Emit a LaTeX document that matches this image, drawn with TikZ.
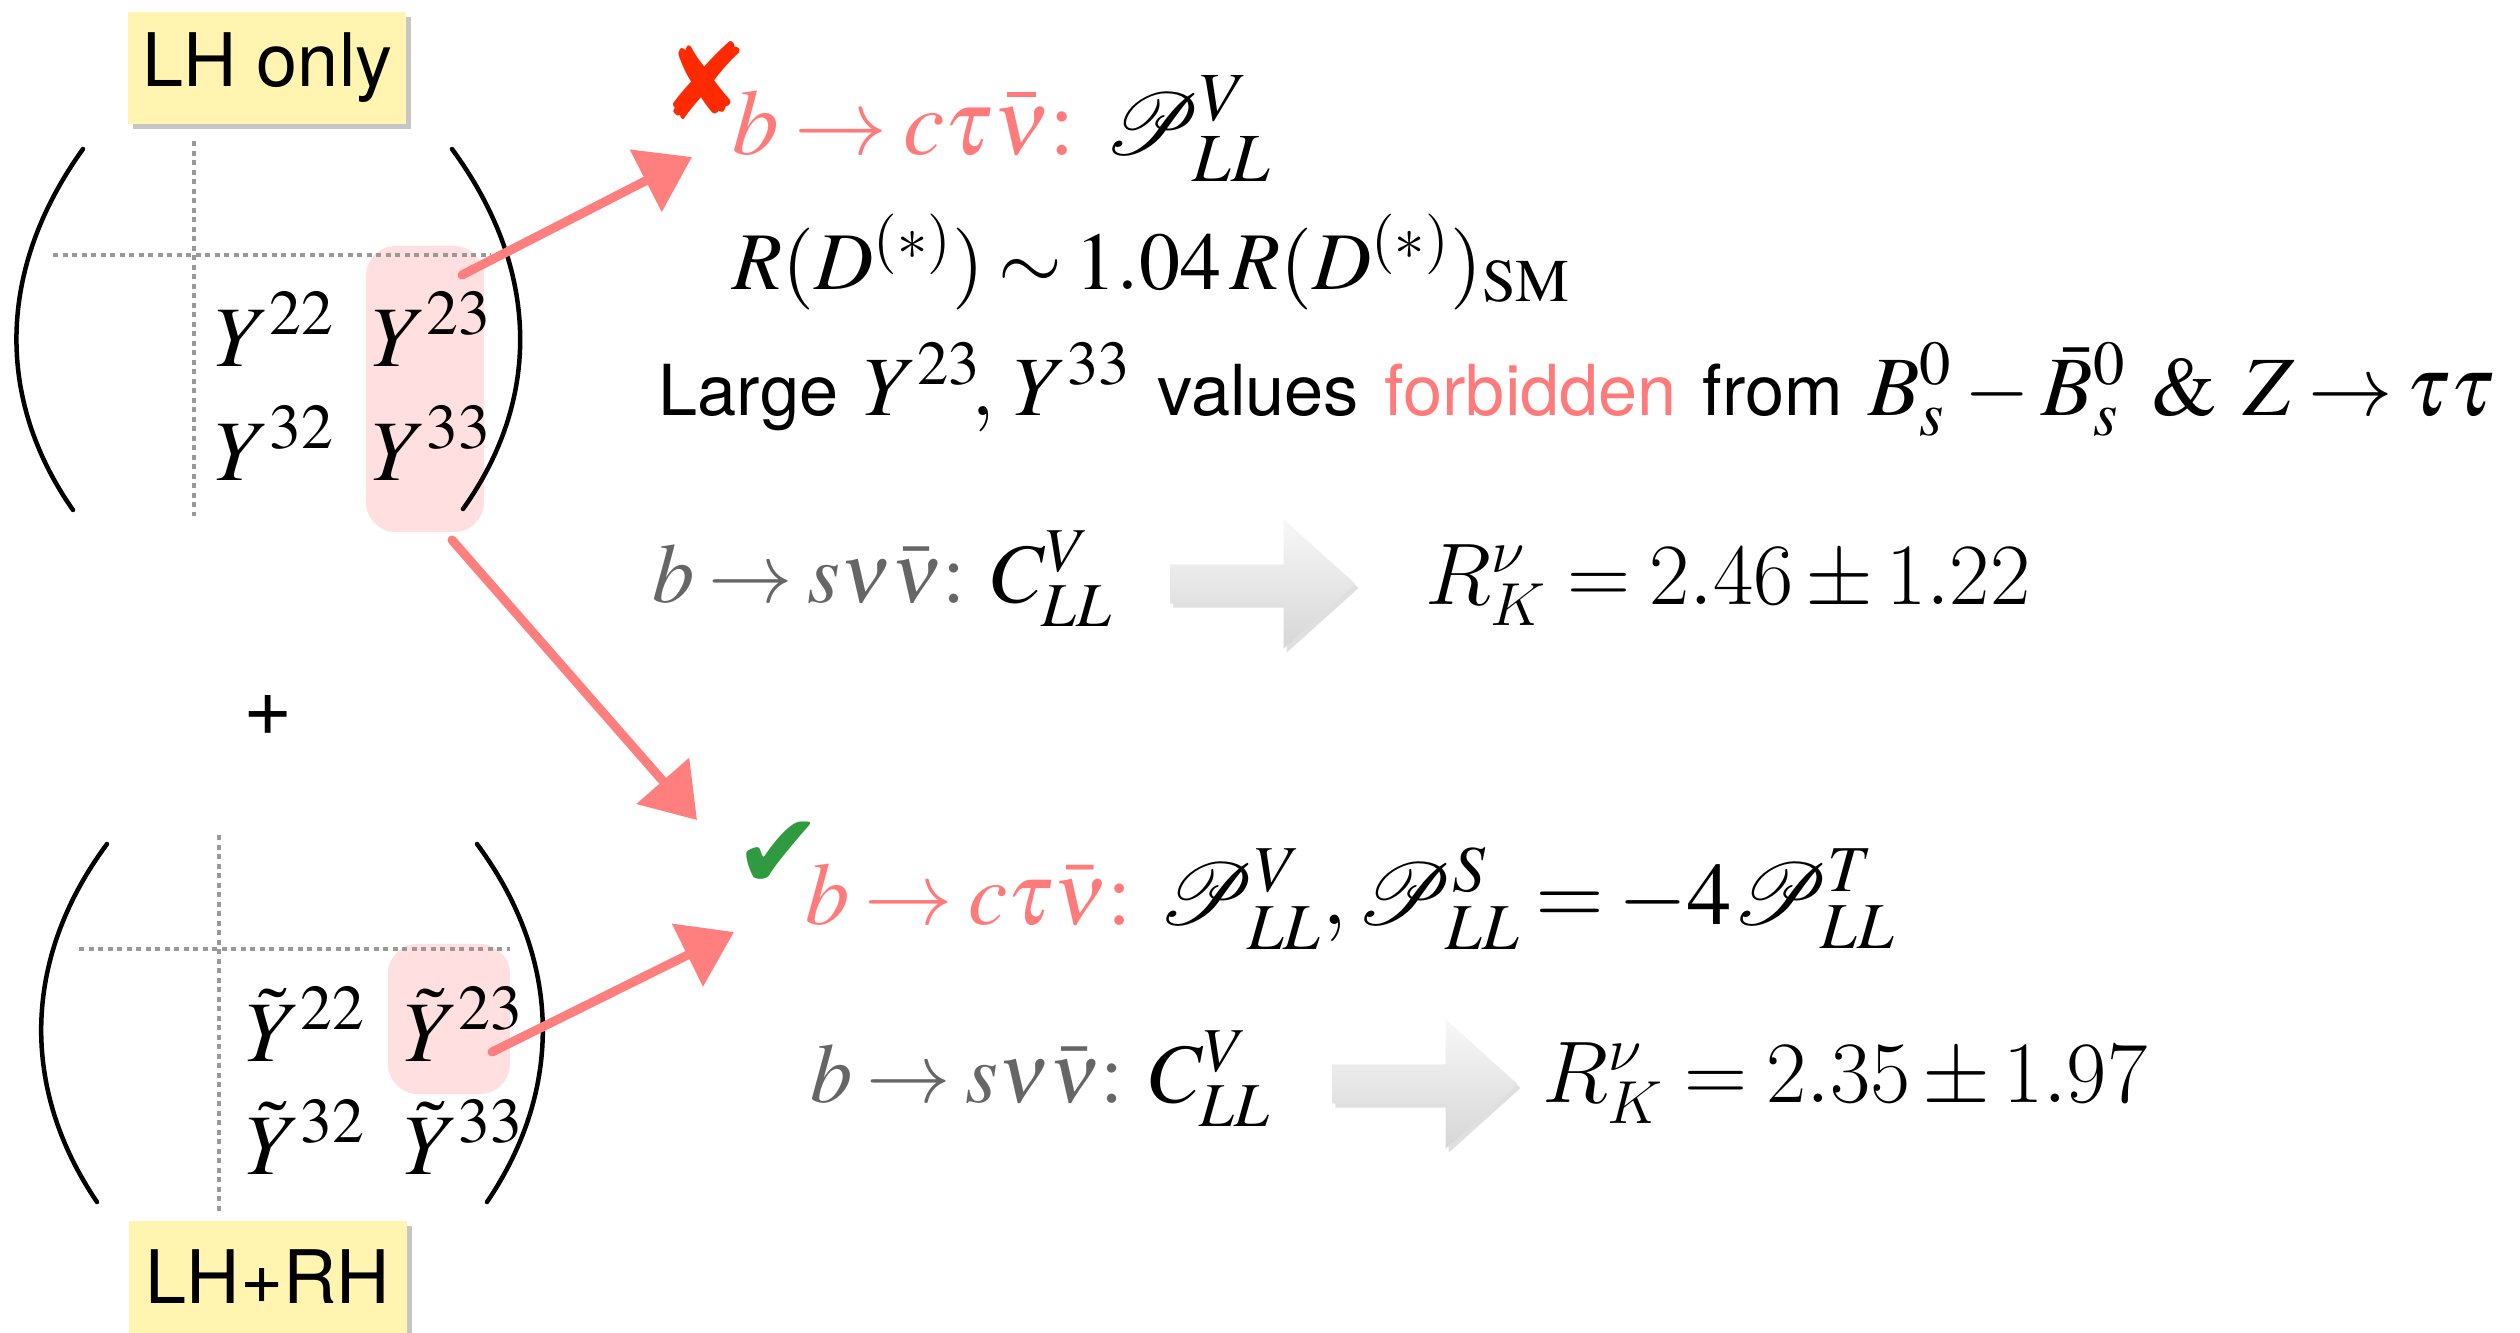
\documentclass[tikz,border=0pt]{standalone}
\usepackage{mathptmx}
\usepackage{mathrsfs}
\usepackage[no-math]{fontspec}
\setsansfont{TeX Gyre Heros}
\newfontfamily\symbolfont{DejaVu Sans}
\usetikzlibrary{positioning,arrows.meta,shapes.arrows,shadows}

% Computer Modern math for the R_K results
\DeclareMathVersion{cm}
\SetSymbolFont{operators}{cm}{OT1}{cmr}{m}{n}
\SetSymbolFont{letters}{cm}{OML}{cmm}{m}{it}
\SetSymbolFont{symbols}{cm}{OMS}{cmsy}{m}{n}
\SetSymbolFont{largesymbols}{cm}{OMX}{cmex}{m}{n}
\newcommand{\cmresult}[1]{\hbox{\mathversion{cm}$#1$}}

\definecolor{pinkred}{HTML}{FF7B7B}
\definecolor{chalkred}{HTML}{FF7F7F}
\definecolor{hlpink}{HTML}{FFDFDF}
\definecolor{notefill}{HTML}{FFF5B1}
\definecolor{textgray}{HTML}{666666}
\definecolor{gridgray}{HTML}{999999}
\definecolor{crossred}{HTML}{FF2A00}
\definecolor{checkgreen}{HTML}{2F9A3F}

\newcommand{\sanstext}[1]{{\fontsize{20}{24}\sffamily #1}}
\newcommand{\tightmath}{\thickmuskip=3mu plus 1mu\medmuskip=2.5mu plus 1mu}

\begin{document}
\begin{tikzpicture}[
    x=0.01cm, y=-0.01cm,
    mathtext/.style={inner sep=0pt, anchor=base west, font=\fontsize{24}{30}\selectfont\tightmath},
    bigmath/.style={mathtext, font=\fontsize{26.5}{30}\selectfont\tightmath},
    entry/.style={inner sep=0pt, anchor=base west, font=\fontsize{24.5}{30}\selectfont},
    tag/.style={
        rectangle, fill=notefill, minimum width=2.78cm, minimum height=1.12cm,
        inner sep=0pt, font=\fontsize{21}{25}\sffamily,
        drop shadow={shadow xshift=0.05cm, shadow yshift=-0.05cm, opacity=0.45}
    },
    verdict/.style={inner sep=0pt, font=\fontsize{30}{30}\symbolfont},
    paren/.style={line width=0.045cm, line cap=round},
    gridline/.style={gridgray, line width=0.04cm, dash pattern=on 0.05cm off 0.045cm},
    hl/.style={rectangle, rounded corners=0.3cm, fill=hlpink, inner sep=0pt},
    chalk/.style={-{Triangle[length=0.52cm, width=0.68cm]}, chalkred, line width=0.09cm, line cap=round},
    blockarrow/.style={
        single arrow, draw=none, inner xsep=0pt, inner ysep=0.19cm,
        minimum height=1.85cm, single arrow head extend=0.45cm, single arrow tip angle=84,
        top color=gray!6, bottom color=gray!32,
        drop shadow={shadow xshift=0.03cm, shadow yshift=-0.04cm, opacity=0.25}
    }
]
\useasboundingbox (0,0) rectangle (2520,1333);
\clip (0,0) rectangle (2520,1333);

% LH only matrix
\node[hl, minimum width=1.18cm, minimum height=2.86cm] (hlA) at (425,389) {};
\draw[gridline] (194,141) -- (194,516);
\draw[gridline] (53,255) -- (491,255);
\draw[paren] (83,149) .. controls (-4,270) and (-4,400) .. (73,510);
\draw[paren] (452,149) .. controls (541,270) and (541,400) .. (463,509);
\node[entry] (y22) at (214,366) {$Y^{22}$};
\node[entry] (y23) at (371,366) {$Y^{23}$};
\node[entry] (y32) at (214,480) {$Y^{32}$};
\node[entry] (y33) at (371,480) {$Y^{33}$};
\node[tag] (lh) at (267,68) {LH only};

\node[inner sep=0pt, font=\fontsize{24}{24}\sffamily] (plus) at (268,715) {+};

% LH+RH matrix
\node[hl, minimum width=1.22cm, minimum height=1.50cm] (hlB) at (449,1019) {};
\draw[gridline] (219,835) -- (219,1211);
\draw[gridline] (79,949) -- (510,949);
\draw[paren] (107,844) .. controls (21,960) and (21,1090) .. (97,1202);
\draw[paren] (477,844) .. controls (563,960) and (563,1090) .. (487,1202);
\node[entry] (t22) at (245,1061) {$\tilde{Y}^{22}$};
\node[entry] (t23) at (403,1061) {$\tilde{Y}^{23}$};
\node[entry] (t32) at (245,1174) {$\tilde{Y}^{32}$};
\node[entry] (t33) at (403,1174) {$\tilde{Y}^{33}$};
\node[tag] (lhrh) at (268,1277) {LH+RH};

% LH only consequences
\node[verdict, crossred] (cross) at (705,80) {✘};
\node[bigmath] (ctnA) at (732,154)
    {{\color{pinkred}$b\to c\tau\bar{\nu}{:}$}~$\mathscr{P}^V_{LL}$};
\node[mathtext, font=\fontsize{23.3}{30}\selectfont\tightmath] (rd) at (732,289)
    {$R(D^{(*)})\sim 1.04\,R(D^{(*)})_{\mathrm{SM}}$};
\node[mathtext] (veto) at (658,415)
    {\sanstext{Large} $Y^{23}\!,\,Y^{33}$ \sanstext{values} {\color{pinkred}\sanstext{forbidden}}
     \sanstext{from} $B_s^0-\bar{B}_s^0\ \&\ Z\to\tau\tau$};
\node[mathtext] (snnA) at (652,602)
    {{\color{textgray}$b\to s\nu\bar{\nu}{:}$}~$C^V_{LL}$};
\node[blockarrow] (goA) at (1252,584) {};
\node[mathtext, font=\fontsize{25}{30}\selectfont] (rkA) at (1425,604) {\cmresult{R^\nu_K = 2.46 \pm 1.22}};

% LH+RH consequences
\node[verdict, checkgreen] (check) at (779,855) {✔};
\node[bigmath, font=\fontsize{25.2}{30}\selectfont\tightmath] (ctnB) at (805,924)
    {{\color{pinkred}$b\to c\tau\bar{\nu}{:}$}~$\mathscr{P}^V_{LL},\mathscr{P}^S_{LL}=-4\mathscr{P}^T_{LL}$};
\node[mathtext] (snnB) at (810,1102)
    {{\color{textgray}$b\to s\nu\bar{\nu}{:}$}~$C^V_{LL}$};
\node[blockarrow] (goB) at (1414,1084) {};
\node[mathtext, font=\fontsize{25.5}{30}\selectfont] (rkB) at (1542,1102) {\cmresult{R^\nu_K = 2.35 \pm 1.97}};

% chalk arrows
\coordinate (fromA) at (462,275);
\coordinate (toA) at (692,157);
\coordinate (fromM) at (452,540);
\coordinate (toM) at (697,820);
\coordinate (fromB) at (492,1052);
\coordinate (toB) at (734,932);
\draw[chalk] (fromA) -- (toA);
\draw[chalk] (fromM) -- (toM);
\draw[chalk] (fromB) -- (toB);
\end{tikzpicture}
\end{document}
